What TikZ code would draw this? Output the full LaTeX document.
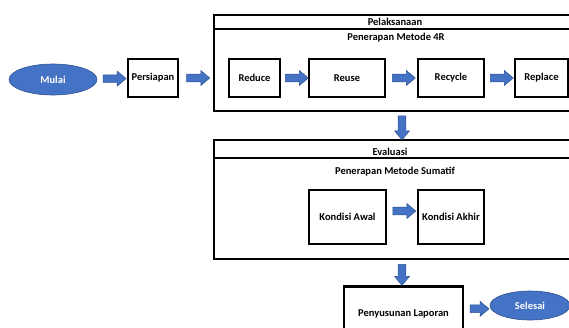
\documentclass[tikz,border=0pt]{standalone}
\usepackage{fontspec}
\setmainfont{Carlito}
\usetikzlibrary{shapes.geometric,shapes.arrows,calc}
\definecolor{bluefill}{HTML}{4472C4}
\definecolor{blueedge}{HTML}{2F528F}
\begin{document}
\begin{tikzpicture}[x=1pt,y=-1pt,
  font=\fontsize{10.5}{12}\selectfont\bfseries,
  box/.style={draw=black,line width=1.3pt,rectangle,inner sep=0pt},
  frame/.style={draw=black,line width=1.5pt,rectangle,inner sep=0pt},
  oval/.style={ellipse,fill=bluefill,draw=blueedge,line width=0.6pt,text=white,inner sep=0pt},
  barrow/.style={single arrow,fill=bluefill,draw=blueedge,line width=0.5pt,
    inner xsep=0pt,inner ysep=3.6pt,minimum width=0pt,
    minimum height=23pt,single arrow head extend=3.6pt,
    single arrow tip angle=80},
  lbl/.style={inner sep=0pt}]
\useasboundingbox (0,0) rectangle (569,327);
\clip (0,0) rectangle (569,327);
% start
\node[oval,minimum width=88pt,minimum height=31pt] (mulai) at (53,79.5) {Mulai};
\node[box,minimum width=50pt,minimum height=38pt] (persiapan) at (153,78) {Persiapan};
% Pelaksanaan frame
\node[frame,minimum width=376pt,minimum height=96pt] (f1) at (402,63) {};
\draw[line width=1.5pt] ([yshift=-14.6pt]f1.north west) -- ([yshift=-14.6pt]f1.north east);
\node[lbl] (t1) at (395,22) {Pelaksanaan};
\node[lbl] (t1b) at (396,38) {Penerapan Metode 4R};
\node[box,minimum width=51pt,minimum height=38pt] (reduce) at (254.5,78) {Reduce};
\node[box,minimum width=76pt,minimum height=38pt] (reuse) at (347,78) {Reuse};
\node[box,minimum width=66pt,minimum height=38pt] (recycle) at (451,78) {Recycle};
\node[box,minimum width=53pt,minimum height=38pt] (replace) at (541.5,78) {Replace};
% Evaluasi frame
\node[frame,minimum width=376pt,minimum height=119pt] (f2) at (402,199.5) {};
\draw[line width=1.5pt] ([yshift=-18.5pt]f2.north west) -- ([yshift=-18.5pt]f2.north east);
\node[lbl] (t2) at (390,152) {Evaluasi};
\node[lbl] (t2b) at (395,172) {Penerapan Metode Sumatif};
\node[box,minimum width=77pt,minimum height=54pt] (awal) at (347.5,217) {Kondisi Awal};
\node[box,minimum width=66pt,minimum height=54pt] (akhir) at (451,217) {Kondisi Akhir};
% end
\node[box,line width=2.3pt,minimum width=119pt,minimum height=54pt] (laporan) at (403.5,313.5) {Penyusunan Laporan};
\node[oval,minimum width=80pt,minimum height=29pt] (selesai) at (530,305.5) {Selesai};
% connectors
\path (mulai) -- (persiapan) node[midway,barrow] {};
\path (persiapan) -- (f1.west |- persiapan) node[midway,barrow] {};
\path (reduce) -- (reuse) node[midway,barrow] {};
\path (reuse) -- (recycle) node[midway,barrow] {};
\path (recycle) -- (replace) node[midway,barrow] {};
\path (f1.south) -- (f2.north) node[midway,barrow,rotate=-90,minimum height=24pt] {};
\path (awal) -- (akhir) node[midway,barrow,yshift=6pt] {};
\path (f2.south) -- (f2.south |- laporan.north) node[midway,barrow,rotate=-90,minimum height=21pt] {};
\path (laporan) -- (selesai) node[midway,barrow,minimum height=19pt] {};
\end{tikzpicture}
\end{document}
